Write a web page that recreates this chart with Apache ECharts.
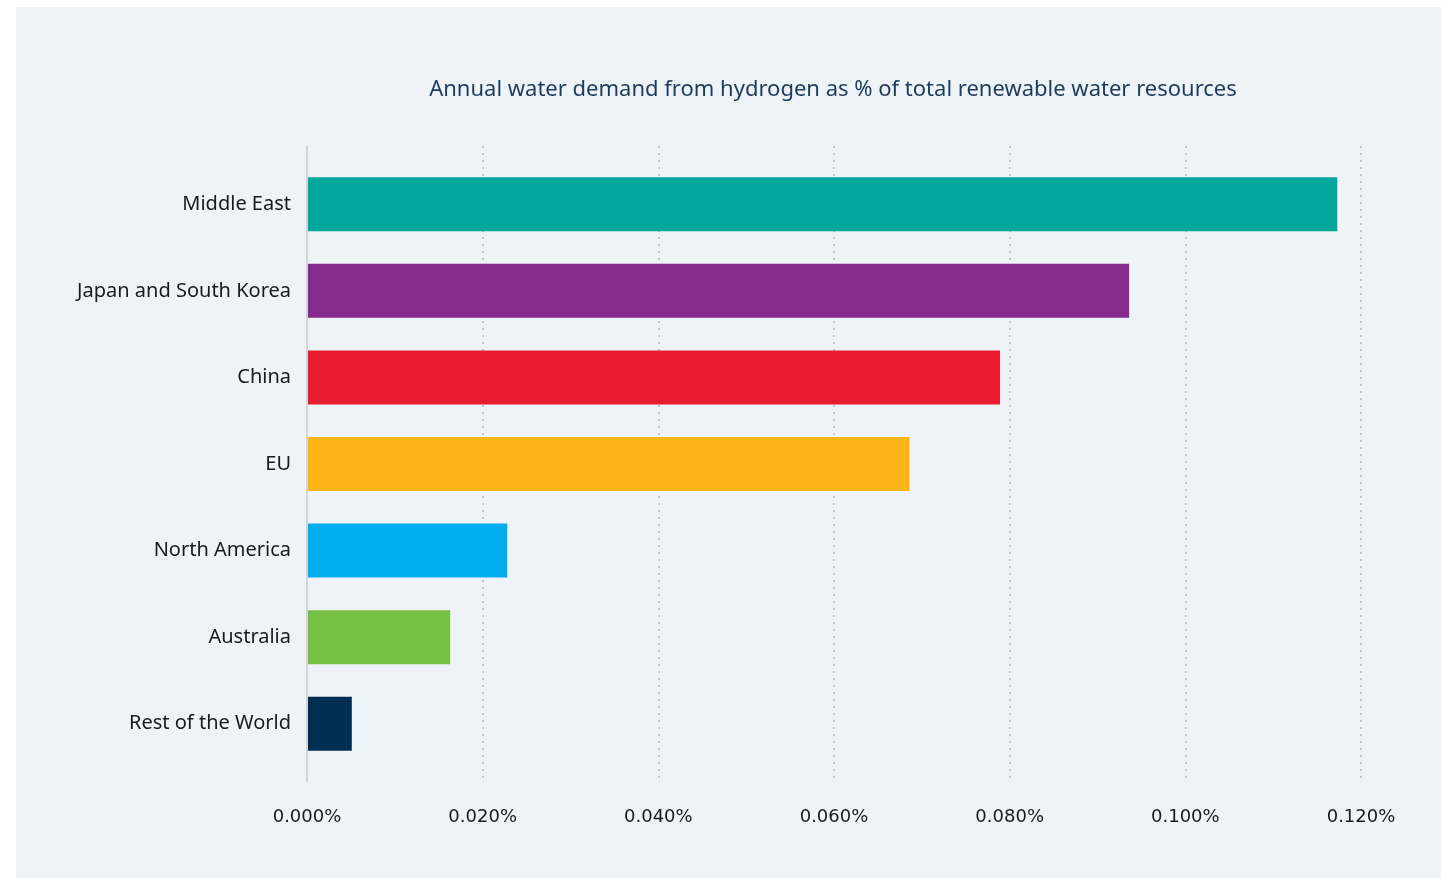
<!DOCTYPE html>
<html>
<head>
<meta charset="utf-8">
<script src="https://cdn.jsdelivr.net/npm/echarts@6/dist/echarts.min.js"></script>
<style>
html,body{margin:0;padding:0;background:#fff;}
#c{width:1441px;height:878px;}
</style>
</head>
<body>
<div id="c"></div>
<script>
const titleText = 'Annual water demand from hydrogen as % of total renewable water resources';
const categories = ['Middle East', 'Japan and South Korea', 'China', 'EU', 'North America', 'Australia', 'Rest of the World'];
const values = [0.1173, 0.0936, 0.0789, 0.0686, 0.0228, 0.0163, 0.0051];
const barColors = ['#00a79a', '#862a8d', '#e71d2f', '#fbb517', '#00aeef', '#76c043', '#002d52'];
const axisMin = 0, axisMax = 0.12, axisStep = 0.02;

const chart = echarts.init(document.getElementById('c'));
const font = '"Noto Sans", sans-serif';
chart.setOption({
  backgroundColor: '#ffffff',
  animation: false,
  graphic: [{
    type: 'rect', left: 16, top: 7, z: -10,
    shape: {width: 1425, height: 871},
    style: {fill: '#eef3f7'}
  }],
  title: {
    text: titleText, left: 828, top: 74, textAlign: 'center',
    textStyle: {color: '#1d3c5c', fontSize: 22, fontWeight: 'normal', fontFamily: font}
  },
  grid: [
    {left: 307, right: 80, top: 161, bottom: 111},
    {left: 307, right: 80, top: 146, bottom: 97}
  ],
  xAxis: [
    {gridIndex: 0, type: 'value', min: axisMin, max: axisMax, interval: axisStep,
     axisLabel: {show: false}, splitLine: {show: false}, axisLine: {show: false}, axisTick: {show: false}},
    {gridIndex: 1, type: 'value', min: axisMin, max: axisMax, interval: axisStep,
     axisLine: {show: false}, axisTick: {show: false},
     splitLine: {show: true, lineStyle: {color: '#c2c6ca', width: 2, type: [2, 5]}},
     axisLabel: {margin: 27, color: '#1a1a1a', fontSize: 18, fontFamily: '"DejaVu Sans", sans-serif',
       formatter: v => v.toFixed(3) + '%'}}
  ],
  yAxis: [
    {gridIndex: 0, type: 'category', data: categories, inverse: true,
     axisLine: {show: false}, axisTick: {show: false},
     axisLabel: {margin: 16, color: '#1a1a1a', fontSize: 20, fontFamily: font}},
    {gridIndex: 1, type: 'value', min: 0, max: 1, z: 5,
     axisLine: {show: true, lineStyle: {color: '#d2d4d6', width: 2}},
     axisTick: {show: false}, axisLabel: {show: false}, splitLine: {show: false}}
  ],
  series: [{
    type: 'bar', xAxisIndex: 0, yAxisIndex: 0, barWidth: 54,
    data: values.map((v, i) => ({value: v, itemStyle: {color: barColors[i]}}))
  }]
});
</script>
</body>
</html>
